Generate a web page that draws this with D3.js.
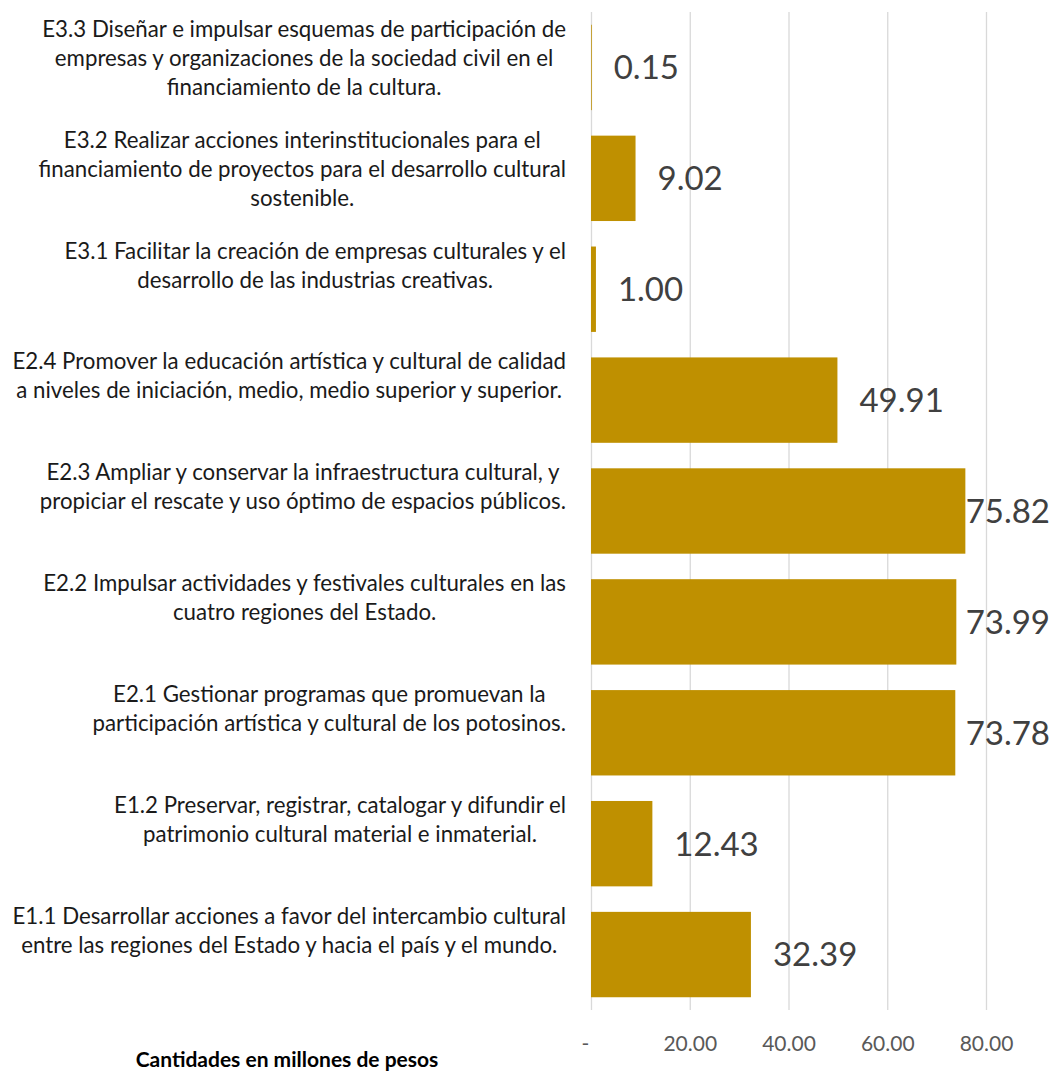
<!DOCTYPE html>
<html>
<head>
<meta charset="utf-8">
<script src="https://cdn.jsdelivr.net/npm/d3@7"></script>
<style>
  body { margin: 0; background: #fff; }
  svg { display: block; font-family: Lato, "Open Sans", sans-serif; }
</style>
</head>
<body>
<svg></svg>
<script>
// categories, top to bottom as shown
const categories = ["E3.3", "E3.2", "E3.1", "E2.4", "E2.3", "E2.2", "E2.1", "E1.2", "E1.1"];

const categoryLines = [
    ["E3.3 Diseñar e impulsar esquemas de participación de", "empresas y organizaciones de la sociedad civil en el", "financiamiento de la cultura."],
    ["E3.2 Realizar acciones interinstitucionales para el", "financiamiento de proyectos para el desarrollo cultural", "sostenible."],
    ["E3.1 Facilitar la creación de empresas culturales y el", "desarrollo de las industrias creativas."],
    ["E2.4 Promover la educación artística y cultural de calidad", "a niveles de iniciación, medio, medio superior y superior."],
    ["E2.3 Ampliar y conservar la infraestructura cultural, y", "propiciar el rescate y uso óptimo de espacios públicos."],
    ["E2.2 Impulsar actividades y festivales culturales en las", "cuatro regiones del Estado."],
    ["E2.1 Gestionar programas que promuevan la", "participación artística y cultural de los potosinos."],
    ["E1.2 Preservar, registrar, catalogar y difundir el", "patrimonio cultural material e inmaterial."],
    ["E1.1 Desarrollar acciones a favor del intercambio cultural", "entre las regiones del Estado y hacia el país y el mundo."]
];

const values = [0.15, 9.02, 1.00, 49.91, 75.82, 73.99, 73.78, 12.43, 32.39];

const tickValues = [0, 20, 40, 60, 80];
const tickLabels = ["-", "20.00", "40.00", "60.00", "80.00"];

const axisTitle = "Cantidades en millones de pesos";

const svgWidth = 1054;
const svgHeight = 1073;
const svg = d3.select("svg")
    .attr("width", svgWidth)
    .attr("height", svgHeight);

const plotTop = 12, plotBottom = 1010;
const labelRight = 566;

const x = d3.scaleLinear()
    .domain([0, 80])
    .range([591, 986]);

const y = d3.scaleBand()
    .domain(categories)
    .range([plotTop, plotBottom])
    .paddingInner(0.23)
    .paddingOuter(0.115);

// gridlines + tick labels
const xAxis = svg.append("g")
    .attr("transform", "translate(0," + plotBottom + ")")
    .call(d3.axisBottom(x)
        .tickValues(tickValues)
        .tickSize(-(plotBottom - plotTop))
        .tickPadding(26)
        .tickFormat((d, i) => tickLabels[i]));

xAxis.select(".domain").remove();
xAxis.selectAll("line")
    .attr("stroke", "#d9d9d9")
    .attr("stroke-width", 1.3);
xAxis.selectAll("text")
    .attr("fill", "#595959")
    .attr("font-size", 21)
    .attr("font-family", "Lato, sans-serif")
    .attr("dx", (d, i) => i === 0 ? -6 : 0);

// bars
svg.append("g")
    .selectAll("rect")
    .data(categories)
    .enter().append("rect")
    .attr("x", x(0))
    .attr("y", d => y(d))
    .attr("width", (d, i) => x(values[i]) - x(0))
    .attr("height", y.bandwidth())
    .attr("fill", "#bf9000");

// value labels, kept inside the chart on the right
const valueLabels = svg.append("g")
    .attr("font-size", 33)
    .attr("fill", "#404040")
    .selectAll("text")
    .data(categories)
    .enter().append("text")
    .attr("y", d => y(d) + y.bandwidth() / 2)
    .attr("dy", "0.36em")
    .text((d, i) => values[i].toFixed(2));

valueLabels.each(function(d, i) {
    const w = this.getComputedTextLength();
    d3.select(this).attr("x", Math.min(x(values[i]) + 22, 1050 - w));
});

// category labels, each block centred on itself and right aligned to the axis
const catLayer = svg.append("g")
    .attr("font-size", 19)
    .attr("fill", "#1a1a1a");

const catGroups = catLayer.selectAll("g")
    .data(categories)
    .enter().append("g");

catGroups.each(function(d, i) {
    d3.select(this).selectAll("text")
        .data(categoryLines[i])
        .enter().append("text")
        .attr("text-anchor", "middle")
        .attr("y", (line, j) => y(d) + 12 + j * 29)
        .text(line => line);
});

// the original font is narrower than Lato's metrics suggest; widest line is ~554px
let widest = 0;
catLayer.selectAll("text").each(function() { widest = Math.max(widest, this.getComputedTextLength()); });
catLayer.attr("font-size", 19 * 554 / widest);

catGroups.each(function() {
    const texts = d3.select(this).selectAll("text");
    let maxW = 0;
    texts.each(function() { maxW = Math.max(maxW, this.getComputedTextLength()); });
    texts.attr("x", labelRight - maxW / 2);
});

// axis title
svg.append("text")
    .attr("x", 287)
    .attr("y", 1067)
    .attr("text-anchor", "middle")
    .attr("font-size", 21)
    .attr("font-weight", "bold")
    .attr("fill", "#000")
    .text(axisTitle);
</script>
</body>
</html>
